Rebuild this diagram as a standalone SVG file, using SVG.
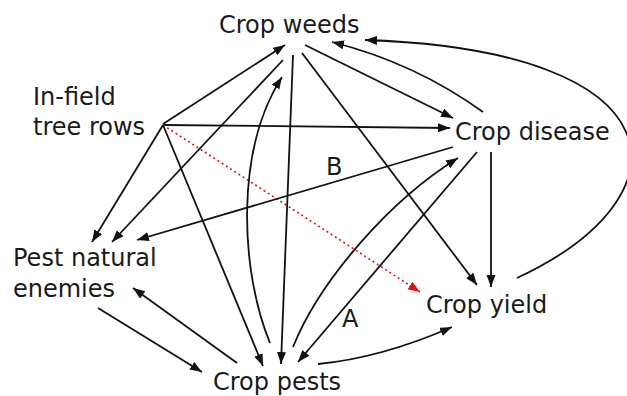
<svg xmlns="http://www.w3.org/2000/svg" width="627" height="396" viewBox="0 0 627 396">
<style>
.lbl{font-family:"DejaVu Sans",Verdana,sans-serif;font-size:24px;fill:#1a1a1a}
.e{fill:none;stroke:#111;stroke-width:1.8;marker-end:url(#ah)}
.r{fill:none;stroke:#e01010;stroke-width:1.6;stroke-dasharray:2 3;marker-end:url(#ahr)}
</style>
<defs>
<marker id="ah" markerUnits="userSpaceOnUse" markerWidth="13" markerHeight="10" refX="12" refY="4.5" orient="auto"><path d="M0,0 L12,4.5 L0,9 z" fill="#111"/></marker>
<marker id="ahr" markerUnits="userSpaceOnUse" markerWidth="13" markerHeight="10" refX="12" refY="4.5" orient="auto"><path d="M0,0 L12,4.5 L0,9 z" fill="#e01010"/></marker>
</defs>
<rect width="627" height="396" fill="#fff"/>
<g id="connectors">
<path class="e" d="M163,124 L285,45"/>
<path class="e" d="M163,125 L450,128"/>
<path class="r" d="M163,125 L420,292"/>
<path class="e" d="M163,125 L263,366"/>
<path class="e" d="M163,125 L92,242"/>
<path class="e" d="M283,60 L112,242"/>
<path class="e" d="M293,55 L281,364"/>
<path class="e" d="M270,343 C240,270 235,150 282,77"/>
<path class="e" d="M305,45 L453,118"/>
<path class="e" d="M483,112 Q415,63 332,42"/>
<path class="e" d="M302,53 L477,285"/>
<path class="e" d="M517,278 C695,195 680,50 365,40"/>
<path class="e" d="M453,147 L137,240"/>
<path class="e" d="M477,152 L298,362"/>
<path class="e" d="M293,347 C320,280 390,200 458,158"/>
<path class="e" d="M491,152 L491,287"/>
<path class="e" d="M98,308 L202,372"/>
<path class="e" d="M237,363 L133,288"/>
<path class="e" d="M318,364 Q381,358 452,327"/>
</g>
<g id="crop-weeds"><text class="lbl" x="219" y="33">Crop weeds</text></g>
<g id="tree-rows"><text class="lbl" x="33" y="105">In-field</text><text class="lbl" x="33" y="135">tree rows</text></g>
<g id="crop-disease"><text class="lbl" x="455" y="140">Crop disease</text></g>
<g id="pest-natural-enemies"><text class="lbl" x="13" y="266">Pest natural</text><text class="lbl" x="13" y="297">enemies</text></g>
<g id="crop-pests"><text class="lbl" x="213" y="390">Crop pests</text></g>
<g id="crop-yield"><text class="lbl" x="426" y="313">Crop yield</text></g>
<g id="edge-labels"><text class="lbl" x="326" y="175">B</text><text class="lbl" x="342" y="327">A</text></g>
</svg>
